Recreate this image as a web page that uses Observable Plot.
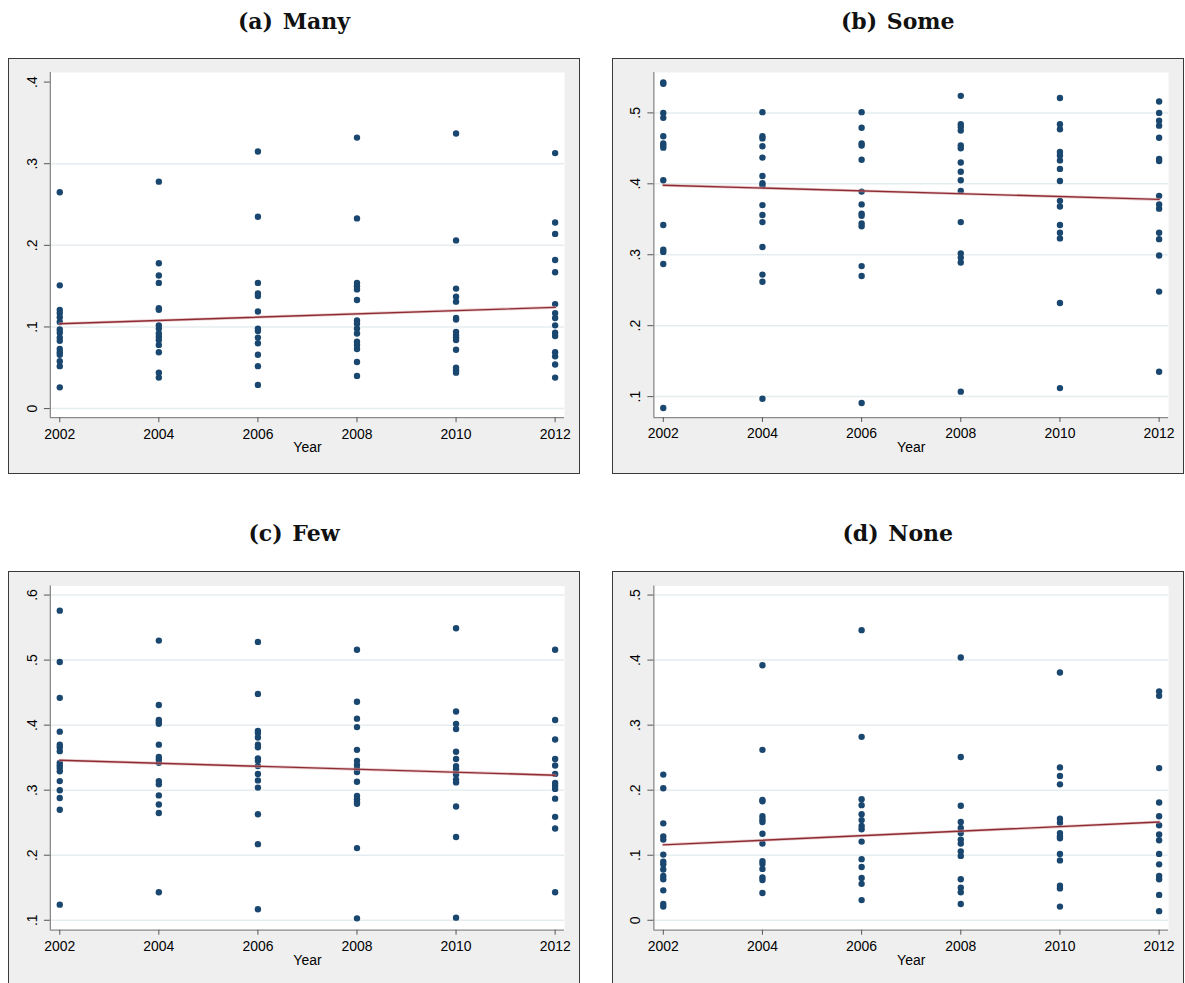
<!DOCTYPE html>
<html>
<head>
<meta charset="utf-8">
<script src="https://cdn.jsdelivr.net/npm/d3@7"></script>
<script src="https://cdn.jsdelivr.net/npm/@observablehq/plot@0.6"></script>
<style>
  html, body { margin: 0; padding: 0; background: #ffffff; overflow: hidden; }
  #page { position: relative; width: 1185px; height: 983px; overflow: hidden; background: #fff; }
  .panel { position: absolute; box-sizing: border-box; background: #efefef; border: 1.5px solid #3a3a3a; }
  .panel svg { position: absolute; left: -1.5px; top: -1.5px; }
  .title { position: absolute; width: 572px; text-align: center; font-family: "DejaVu Serif", "Liberation Serif", serif; font-weight: bold; font-size: 22px; color: #111; white-space: pre; word-spacing: 2px; }
</style>
</head>
<body>
<div id="page"></div>
<script>
// ---------- data ----------
const years = [2002, 2004, 2006, 2008, 2010, 2012];

const manyValues = [
  [0.265, 0.151, 0.121, 0.117, 0.112, 0.106, 0.097, 0.093, 0.087, 0.083, 0.073, 0.069, 0.066, 0.058, 0.052, 0.026],
  [0.278, 0.178, 0.163, 0.154, 0.123, 0.121, 0.102, 0.098, 0.092, 0.088, 0.084, 0.078, 0.069, 0.044, 0.038],
  [0.315, 0.235, 0.154, 0.141, 0.138, 0.119, 0.098, 0.095, 0.087, 0.080, 0.066, 0.052, 0.029],
  [0.332, 0.233, 0.154, 0.150, 0.146, 0.133, 0.108, 0.104, 0.098, 0.092, 0.082, 0.078, 0.073, 0.057, 0.040],
  [0.337, 0.206, 0.147, 0.137, 0.131, 0.111, 0.109, 0.094, 0.090, 0.087, 0.084, 0.072, 0.050, 0.047, 0.044],
  [0.313, 0.228, 0.214, 0.182, 0.167, 0.128, 0.117, 0.111, 0.102, 0.093, 0.089, 0.069, 0.064, 0.054, 0.038]
];
const someValues = [
  [0.543, 0.541, 0.500, 0.493, 0.467, 0.457, 0.454, 0.451, 0.405, 0.342, 0.307, 0.304, 0.287, 0.084],
  [0.501, 0.467, 0.464, 0.453, 0.437, 0.411, 0.401, 0.398, 0.370, 0.356, 0.346, 0.311, 0.272, 0.262, 0.097],
  [0.501, 0.479, 0.457, 0.454, 0.434, 0.389, 0.371, 0.358, 0.355, 0.344, 0.340, 0.284, 0.270, 0.091],
  [0.524, 0.484, 0.480, 0.475, 0.454, 0.450, 0.430, 0.417, 0.405, 0.390, 0.346, 0.302, 0.296, 0.289, 0.107],
  [0.521, 0.484, 0.477, 0.445, 0.440, 0.433, 0.421, 0.404, 0.376, 0.368, 0.342, 0.331, 0.323, 0.232, 0.112],
  [0.516, 0.500, 0.489, 0.482, 0.465, 0.435, 0.432, 0.383, 0.371, 0.365, 0.331, 0.322, 0.299, 0.248, 0.135]
];
const fewValues = [
  [0.576, 0.497, 0.442, 0.390, 0.370, 0.366, 0.360, 0.342, 0.338, 0.334, 0.329, 0.314, 0.300, 0.288, 0.270, 0.124],
  [0.530, 0.431, 0.408, 0.405, 0.402, 0.370, 0.351, 0.347, 0.342, 0.314, 0.309, 0.292, 0.278, 0.265, 0.143],
  [0.528, 0.448, 0.391, 0.388, 0.381, 0.370, 0.366, 0.349, 0.345, 0.337, 0.325, 0.315, 0.304, 0.263, 0.217, 0.117],
  [0.516, 0.436, 0.410, 0.397, 0.362, 0.345, 0.339, 0.333, 0.328, 0.313, 0.291, 0.286, 0.282, 0.279, 0.211, 0.103],
  [0.549, 0.421, 0.402, 0.394, 0.359, 0.348, 0.337, 0.332, 0.324, 0.316, 0.312, 0.275, 0.228, 0.104],
  [0.516, 0.408, 0.378, 0.348, 0.338, 0.325, 0.311, 0.307, 0.302, 0.287, 0.259, 0.241, 0.143]
];
const noneValues = [
  [0.224, 0.203, 0.149, 0.129, 0.124, 0.101, 0.090, 0.086, 0.078, 0.068, 0.063, 0.046, 0.025, 0.021],
  [0.392, 0.262, 0.185, 0.183, 0.160, 0.155, 0.151, 0.133, 0.118, 0.091, 0.087, 0.079, 0.066, 0.062, 0.042],
  [0.446, 0.282, 0.186, 0.177, 0.163, 0.154, 0.145, 0.140, 0.121, 0.094, 0.082, 0.065, 0.056, 0.031],
  [0.404, 0.251, 0.176, 0.151, 0.142, 0.134, 0.124, 0.118, 0.106, 0.099, 0.063, 0.050, 0.043, 0.025],
  [0.381, 0.235, 0.222, 0.209, 0.156, 0.150, 0.134, 0.129, 0.126, 0.102, 0.092, 0.053, 0.049, 0.021],
  [0.352, 0.345, 0.234, 0.181, 0.160, 0.146, 0.132, 0.123, 0.102, 0.086, 0.068, 0.063, 0.039, 0.014]
];

// fitted line endpoints (2002, 2012)
const fitYears = [2002, 2012];
const manyFit = [0.104, 0.124];
const someFit = [0.398, 0.378];
const fewFit = [0.346, 0.323];
const noneFit = [0.116, 0.151];

// y tick values and labels
const manyTicks = [0, 0.1, 0.2, 0.3, 0.4];
const manyTickLabels = ["0", ".1", ".2", ".3", ".4"];
const someTicks = [0.1, 0.2, 0.3, 0.4, 0.5];
const someTickLabels = [".1", ".2", ".3", ".4", ".5"];
const fewTicks = [0.1, 0.2, 0.3, 0.4, 0.5, 0.6];
const fewTickLabels = [".1", ".2", ".3", ".4", ".5", ".6"];
const noneTicks = [0, 0.1, 0.2, 0.3, 0.4, 0.5];
const noneTickLabels = ["0", ".1", ".2", ".3", ".4", ".5"];

const titles = ["(a) Many", "(b) Some", "(c) Few", "(d) None"];
const xLabel = "Year";

// ---------- drawing ----------
const navy = "#1a476f";
const maroon = "#8e2c33";
const gridColor = "#e6edf0";
const axisColor = "#8a8a8a";
const fontFamily = "Arial, 'Liberation Sans', Helvetica, sans-serif";
const xDomain = [2001.81, 2012.19];

const panels = [
  {title: titles[0], values: manyValues, fit: manyFit, ticks: manyTicks, labels: manyTickLabels, grid: [0, 0.1, 0.2, 0.3],
   box: {left: 8, top: 58, w: 572, h: 416}, m: {l: 42, r: 14, t: 14, b: 55.5}, y: [-0.0112, 0.4118], titleTop: 8},
  {title: titles[1], values: someValues, fit: someFit, ticks: someTicks, labels: someTickLabels, grid: someTicks,
   box: {left: 612, top: 58, w: 571.5, h: 416}, m: {l: 41.5, r: 13.5, t: 14, b: 55.7}, y: [0.0705, 0.557], titleTop: 8},
  {title: titles[2], values: fewValues, fit: fewFit, ticks: fewTicks, labels: fewTickLabels, grid: fewTicks,
   box: {left: 8, top: 571, w: 572, h: 416}, m: {l: 42, r: 14, t: 14.5, b: 56}, y: [0.0847, 0.614], titleTop: 520},
  {title: titles[3], values: noneValues, fit: noneFit, ticks: noneTicks, labels: noneTickLabels, grid: noneTicks,
   box: {left: 612, top: 571, w: 571.5, h: 416}, m: {l: 41.5, r: 13.5, t: 14.5, b: 56}, y: [-0.0153, 0.514], titleTop: 520}
];

const page = document.getElementById("page");

for (const p of panels) {
  const points = [];
  years.forEach((yr, i) => p.values[i].forEach(v => points.push({year: yr, value: v})));
  const fitLine = fitYears.map((yr, i) => ({year: yr, value: p.fit[i]}));
  const labelOf = t => p.labels[p.ticks.indexOf(t)];

  const chart = Plot.plot({
    width: p.box.w,
    height: p.box.h,
    marginLeft: p.m.l,
    marginRight: p.m.r,
    marginTop: p.m.t,
    marginBottom: p.m.b,
    style: {background: "transparent", fontFamily, fontSize: "14px", color: "#000", overflow: "visible"},
    x: {domain: xDomain, label: null},
    y: {domain: p.y, label: null},
    marks: [
      Plot.frame({fill: "white", stroke: null}),
      Plot.gridY(p.grid, {stroke: gridColor, strokeOpacity: 1, strokeWidth: 1.5}),
      Plot.ruleY([p.y[0]], {stroke: axisColor, strokeWidth: 1.3}),
      Plot.ruleX([xDomain[0]], {stroke: axisColor, strokeWidth: 1.3}),
      Plot.axisX({ticks: years, tickSize: 5, tickPadding: 6, tickFormat: d => String(d), stroke: "#555", fill: "#000", fontSize: 14, label: null}),
      Plot.axisY({ticks: p.ticks, tickSize: 6, tickFormat: () => "", stroke: "#555", label: null}),
      Plot.text(p.ticks, {y: d => d, frameAnchor: "left", dx: -18, rotate: -90, text: d => labelOf(d),
        textAnchor: "middle", lineAnchor: "middle", fill: "#000", fontSize: 14}),
      Plot.text([xLabel], {frameAnchor: "bottom", dy: 30, text: d => d, fill: "#000", fontSize: 14, lineAnchor: "middle"}),
      Plot.dot(points, {x: "year", y: "value", r: 3.2, fill: navy, stroke: null}),
      Plot.line(fitLine, {x: "year", y: "value", stroke: "#d9a3a6", strokeWidth: 3, strokeOpacity: 0.6}),
      Plot.line(fitLine, {x: "year", y: "value", stroke: maroon, strokeWidth: 1.4})
    ]
  });

  const div = document.createElement("div");
  div.className = "panel";
  div.style.left = p.box.left + "px";
  div.style.top = p.box.top + "px";
  div.style.width = p.box.w + "px";
  div.style.height = p.box.h + "px";
  div.appendChild(chart);
  page.appendChild(div);

  const t = document.createElement("div");
  t.className = "title";
  t.style.left = p.box.left + "px";
  t.style.width = p.box.w + "px";
  t.style.top = p.titleTop + "px";
  t.textContent = p.title;
  page.appendChild(t);
}
</script>
</body>
</html>
